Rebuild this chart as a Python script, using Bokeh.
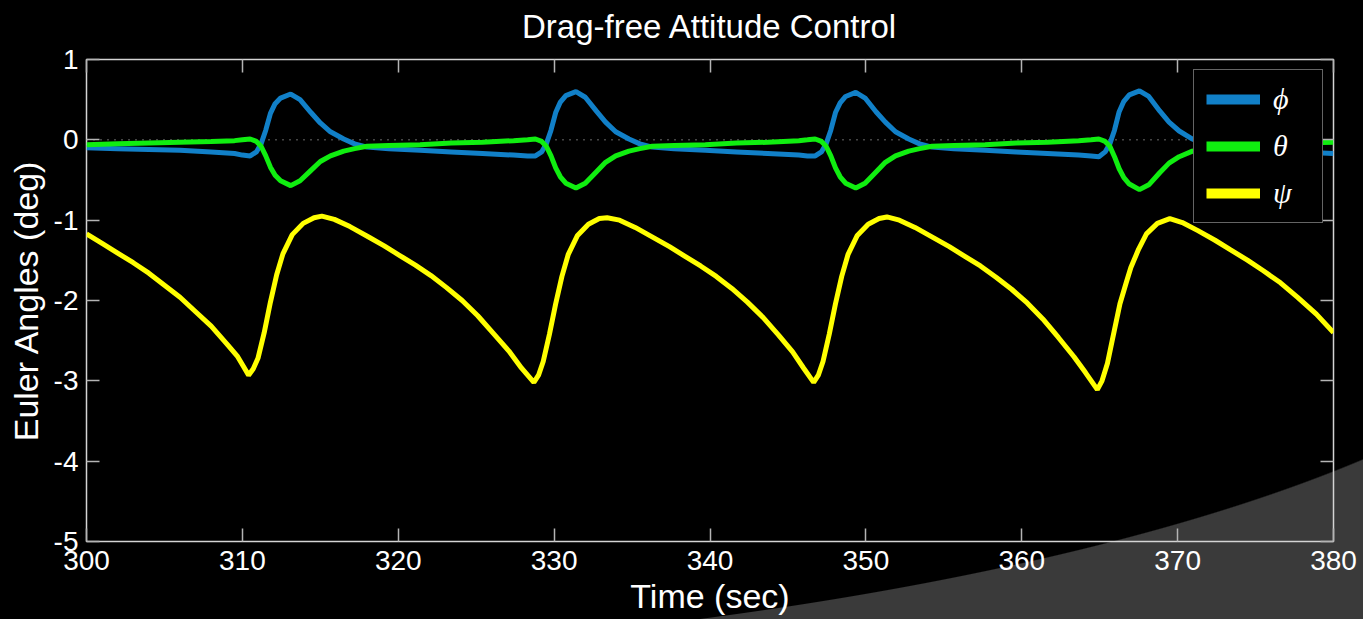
from bokeh.plotting import figure
from bokeh.models import (Range1d, LinearAxis, FixedTicker, Span, Legend,
                          LegendItem, ColumnDataSource)
from bokeh.embed import file_html
from bokeh.resources import INLINE

# ---------------- data ----------------
title_text = "Drag-free Attitude Control"
x_ticks = [300, 310, 320, 330, 340, 350, 360, 370, 380]
y_ticks = [-5, -4, -3, -2, -1, 0, 1]
zero_level = 0.0

psi_t = [300, 301, 302, 303, 304, 305, 306, 307, 308, 309, 309.7, 310.1, 310.4,
         310.7, 311.0, 311.4, 311.8, 312.2, 312.6, 313.2, 313.9, 314.6, 315.1,
         315.9, 316.9, 318.1, 319.1, 320.1, 321.1, 322.1, 323.1, 324.1, 325.1, 326.1, 327.1, 327.9, 328.7,
         329.0, 329.3, 329.7, 330.1, 330.5, 330.9, 331.5, 332.2, 332.9, 333.4,
         334.2, 335.2, 336.4, 337.4, 338.4, 339.4, 340.4, 341.4, 342.4, 343.4, 344.4, 345.3, 346.0, 346.65,
         346.95, 347.25, 347.65, 348.05, 348.45, 348.85, 349.45, 350.15, 350.85, 351.35,
         352.15, 353.15, 354.35, 355.35, 356.35, 357.35, 358.35, 359.35, 360.35, 361.35, 362.35, 363.35, 364.1, 364.85,
         365.15, 365.5, 365.8, 366.3, 366.7, 367.0, 367.5, 368.0, 368.7, 369.5,
         370.3, 371.3, 372.4, 373.4, 374.5, 375.5, 376.6, 377.7, 378.9, 380.0]
psi_v = [-1.17, -1.29, -1.41, -1.53, -1.66, -1.81, -1.96, -2.14, -2.32, -2.54, -2.70, -2.83, -2.93,
         -2.85, -2.72, -2.40, -2.02, -1.68, -1.42, -1.18, -1.04, -0.97, -0.95,
         -0.99, -1.08, -1.21, -1.32, -1.44, -1.56, -1.69, -1.84, -2.00, -2.19, -2.41, -2.63, -2.84, -3.02,
         -2.93, -2.76, -2.42, -2.04, -1.70, -1.43, -1.19, -1.05, -0.98, -0.97,
         -1.00, -1.09, -1.22, -1.33, -1.45, -1.57, -1.70, -1.85, -2.02, -2.21, -2.43, -2.64, -2.84, -3.02,
         -2.93, -2.76, -2.42, -2.04, -1.70, -1.43, -1.19, -1.05, -0.98, -0.96,
         -1.00, -1.09, -1.22, -1.33, -1.45, -1.57, -1.71, -1.86, -2.03, -2.23, -2.46, -2.70, -2.90, -3.11,
         -3.00, -2.78, -2.50, -2.04, -1.78, -1.59, -1.36, -1.17, -1.04, -0.98,
         -1.03, -1.13, -1.25, -1.37, -1.50, -1.63, -1.78, -1.96, -2.17, -2.40]

att_t = [300, 302, 304, 306, 308, 309.5, 310.0,
         310.5, 310.9, 311.2, 311.5, 311.8, 312.1, 312.45, 313.1, 313.7, 314.4, 315.0, 315.65, 316.5, 317.2,
         318.0, 319.4, 321.4, 323.4, 325.4, 327.4, 328.3,
         328.8, 329.2, 329.5, 329.8, 330.1, 330.4, 330.75, 331.4, 332.0, 332.7, 333.3, 333.95, 334.8, 335.5,
         336.3, 337.7, 339.7, 341.7, 343.7, 345.7, 346.25,
         346.75, 347.15, 347.45, 347.75, 348.05, 348.35, 348.7, 349.35, 349.95, 350.65, 351.25, 351.9, 352.75,
         353.45, 354.25, 355.65, 357.65, 359.65, 361.65, 363.65, 364.45,
         364.95, 365.35, 365.65, 365.95, 366.25, 366.55, 366.9, 367.55, 368.15, 368.85, 369.45, 370.1, 370.95,
         371.65, 372.45, 373.85, 375.85, 377.85, 380.0]
phi_v = [-0.10, -0.11, -0.12, -0.13, -0.15, -0.17, -0.19,
         -0.20, -0.15, -0.05, 0.12, 0.33, 0.45, 0.52, 0.57, 0.50, 0.34, 0.21, 0.10, 0.01, -0.05,
         -0.09, -0.11, -0.13, -0.15, -0.17, -0.19, -0.20,
         -0.20, -0.15, -0.05, 0.12, 0.34, 0.47, 0.55, 0.60, 0.53, 0.36, 0.22, 0.10, 0.01, -0.05,
         -0.09, -0.11, -0.13, -0.15, -0.17, -0.19, -0.20,
         -0.20, -0.15, -0.05, 0.12, 0.34, 0.46, 0.54, 0.59, 0.52, 0.35, 0.22, 0.10, 0.01,
         -0.05, -0.09, -0.11, -0.13, -0.15, -0.17, -0.19, -0.20,
         -0.21, -0.15, -0.05, 0.12, 0.35, 0.48, 0.56, 0.61, 0.54, 0.36, 0.22, 0.11, 0.01,
         -0.05, -0.09, -0.11, -0.13, -0.15, -0.17]
theta_v = [-0.06, -0.05, -0.04, -0.03, -0.02, -0.01, 0.00,
           0.01, -0.02, -0.08, -0.20, -0.34, -0.44, -0.51, -0.57, -0.51, -0.38, -0.27, -0.20, -0.14, -0.11,
           -0.08, -0.07, -0.06, -0.04, -0.03, -0.01, 0.00,
           0.01, -0.02, -0.08, -0.20, -0.35, -0.46, -0.54, -0.60, -0.54, -0.40, -0.28, -0.20, -0.14, -0.11,
           -0.08, -0.07, -0.06, -0.04, -0.03, -0.01, 0.00,
           0.01, -0.02, -0.08, -0.20, -0.35, -0.46, -0.54, -0.60, -0.54, -0.40, -0.28, -0.20, -0.14,
           -0.11, -0.08, -0.07, -0.06, -0.04, -0.03, -0.01, 0.00,
           0.01, -0.02, -0.08, -0.21, -0.36, -0.47, -0.55, -0.62, -0.56, -0.41, -0.29, -0.21, -0.14,
           -0.11, -0.08, -0.07, -0.06, -0.04, -0.03]

series_labels = ["\u03d5", "\u03b8", "\u03c8"]
series_colors = ["#1180c8", "#10ee10", "#ffff00"]

# ---------------- figure ----------------
FONT = "Liberation Sans"
AX = "#d4d4d4"
TICK = "#b4b4b4"

p = figure(width=1363, height=619, output_backend="svg", toolbar_location=None,
           x_range=Range1d(300, 380), y_range=Range1d(-5, 1),
           min_border_left=86, min_border_right=30, min_border_top=59, min_border_bottom=78,
           x_axis_label="Time (sec)", y_axis_label="Euler Angles (deg)")

p.border_fill_color = None
p.background_fill_color = None
p.styles = {"background": "radial-gradient(ellipse 1630px 449px at 0px 214px, "
                          "#000000 99.8%, #3a3a3a 100%)"}
p.outline_line_color = AX
p.outline_line_width = 1.5
p.grid.visible = False


def style_axis(ax, ticks, labels=True):
    ax.ticker = FixedTicker(ticks=ticks)
    ax.axis_line_color = None
    ax.major_tick_in = 13
    ax.major_tick_out = 0
    ax.major_tick_line_color = TICK
    ax.major_tick_line_width = 1.5
    ax.minor_tick_line_color = None
    ax.axis_label_text_color = "white"
    ax.axis_label_text_font = FONT
    ax.axis_label_text_font_size = "34px"
    ax.axis_label_text_font_style = "normal"
    if labels:
        ax.major_label_overrides = {t: str(t) for t in ticks}
        ax.major_label_text_color = "white"
        ax.major_label_text_font = FONT
        ax.major_label_text_font_size = "28px"
    else:
        ax.major_label_text_color = None
        ax.major_label_text_font_size = "1px"
        ax.major_label_standoff = 0


xa = p.xaxis[0]
ya = p.yaxis[0]
style_axis(xa, x_ticks)
style_axis(ya, y_ticks)
xa.major_label_standoff = 9
xa.axis_label_standoff = 4
ya.major_label_standoff = 8
ya.axis_label_standoff = 6

# top axis carries the chart title as its label; right axis only ticks
top_ax = LinearAxis(axis_label=title_text)
right_ax = LinearAxis()
p.add_layout(top_ax, "above")
p.add_layout(right_ax, "right")
style_axis(top_ax, x_ticks, labels=False)
style_axis(right_ax, y_ticks, labels=False)
top_ax.axis_label_text_font_size = "33px"
top_ax.axis_label_standoff = 15

p.add_layout(Span(location=zero_level, dimension="width", line_color="#8a8a8a",
                  line_dash="1 6", line_width=1.5, level="underlay"))

src_psi = ColumnDataSource(dict(t=psi_t, v=psi_v))
src_att = ColumnDataSource(dict(t=att_t, phi=phi_v, theta=theta_v))

p.line("t", "phi", source=src_att, line_color=series_colors[0], line_width=5)
p.line("t", "theta", source=src_att, line_color=series_colors[1], line_width=5)
p.line("t", "v", source=src_psi, line_color=series_colors[2], line_width=5)

# legend proxies (thicker swatches, no visible data)
nan = float("nan")
items = []
for lab, col in zip(series_labels, series_colors):
    r = p.line(x=[nan, nan], y=[nan, nan], line_color=col, line_width=10)
    items.append(LegendItem(label=lab, renderers=[r]))

legend = Legend(items=items, location="top_right")
legend.background_fill_color = "black"
legend.background_fill_alpha = 1.0
legend.border_line_color = "#c8c8c8"
legend.border_line_width = 1.5
legend.label_text_color = "white"
legend.label_text_font = "Liberation Serif"
legend.label_text_font_style = "italic"
legend.label_text_font_size = "30px"
legend.glyph_width = 54
legend.glyph_height = 26
legend.label_height = 26
legend.label_width = 37
legend.label_standoff = 13
legend.padding = 12
legend.spacing = 13
legend.margin = 10
p.add_layout(legend)

open("out.html", "w").write(file_html(p, INLINE))
